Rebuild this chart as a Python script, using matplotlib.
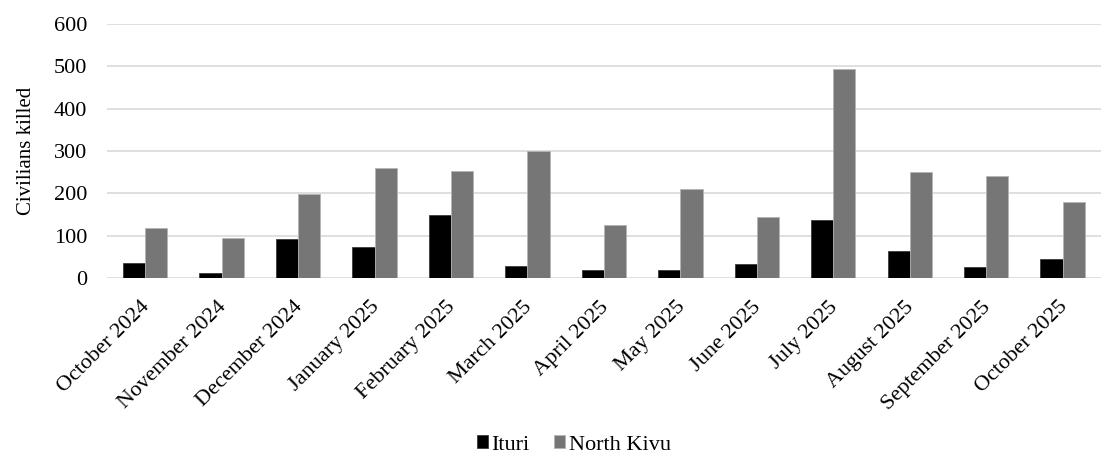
import matplotlib
matplotlib.use("Agg")
import matplotlib.pyplot as plt
import matplotlib.transforms as mtransforms
import numpy as np

months = ["October 2024", "November 2024", "December 2024", "January 2025",
          "February 2025", "March 2025", "April 2025", "May 2025", "June 2025",
          "July 2025", "August 2025", "September 2025", "October 2025"]
ituri = [36, 13, 92, 73, 149, 28, 18, 18, 32, 138, 63, 27, 44]
north_kivu = [119, 95, 198, 261, 254, 300, 126, 210, 144, 493, 251, 240, 179]
yticks = [0, 100, 200, 300, 400, 500, 600]

plt.rcParams['font.family'] = ['Liberation Serif', 'DejaVu Serif']

fig = plt.figure(figsize=(11.02, 4.55), dpi=100)
ax = fig.add_axes([0.097, 0.389, 0.902, 0.558])

x = np.arange(len(months))
w = 0.29
ax.bar(x - w / 2, ituri, w, color="#000000", edgecolor="#3a3a3a", linewidth=0.6,
       label="Ituri", zorder=3)
ax.bar(x + w / 2, north_kivu, w, color="#767676", edgecolor="#b5b5b5", linewidth=0.6,
       label="North Kivu", zorder=3)

ax.set_xlim(-0.5, len(months) - 0.5)
ax.set_ylim(0, 600)
ax.set_yticks(yticks)
ax.set_yticklabels([str(v) for v in yticks], fontsize=16)
ax.set_xticks(x)
ax.set_xticklabels(months, rotation=45, ha="right", rotation_mode="anchor", fontsize=16)
ax.tick_params(axis="both", length=0)
ax.tick_params(axis="y", pad=14)
ax.tick_params(axis="x", pad=14)
shift = mtransforms.ScaledTranslation(-5 / 100, 0, fig.dpi_scale_trans)
for lbl in ax.get_xticklabels():
    lbl.set_transform(lbl.get_transform() + shift)
ax.grid(axis="y", color="#d9d9d9", linewidth=1.2, zorder=0)
for s in ax.spines.values():
    s.set_visible(False)

ax.set_ylabel("Civilians killed", fontsize=15, labelpad=13)

fig.legend(loc="center", bbox_to_anchor=(574 / 1102, 1 - 445 / 455),
           ncol=2, frameon=False, fontsize=16, handlelength=0.5, handleheight=0.5,
           handletextpad=0.15, columnspacing=1.1)

fig.savefig("out.png", dpi=100)
